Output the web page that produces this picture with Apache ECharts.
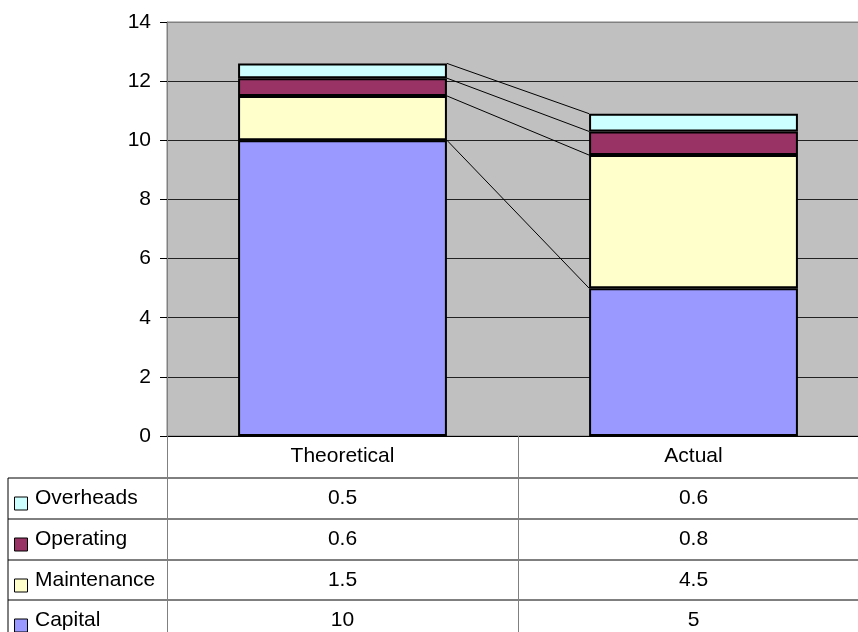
<!DOCTYPE html>
<html>
<head>
<meta charset="utf-8">
<script src="https://cdn.jsdelivr.net/npm/echarts@6/dist/echarts.min.js"></script>
<style>
    html, body { margin: 0; padding: 0; background: #fff; }
    #main { width: 858px; height: 632px; }
</style>
</head>
<body>
<div id="main"></div>
<script>
var categories = ['Theoretical', 'Actual'];
var capital = [10, 5];
var maintenance = [1.5, 4.5];
var operating = [0.6, 0.8];
var overheads = [0.5, 0.6];

var seriesNames = ['Capital', 'Maintenance', 'Operating', 'Overheads'];
var seriesData = [capital, maintenance, operating, overheads];
var seriesColors = ['#9999FF', '#FFFFCC', '#993366', '#CCFFFF'];

var FONT = "'Liberation Sans', Arial, sans-serif";
var BAR_RATIO = 0.595;

// running totals at the top of each stacked segment, used for the series lines
var levels = [];
var run = [0, 0];
for (var s = 0; s < seriesData.length; s++) {
    run = [run[0] + seriesData[s][0], run[1] + seriesData[s][1]];
    levels.push([0, run[0], run[1]]);
}

var series = [];
for (var i = 0; i < seriesNames.length; i++) {
    series.push({
        name: seriesNames[i],
        type: 'bar',
        stack: 'total',
        barWidth: (BAR_RATIO * 100) + '%',
        data: seriesData[i],
        itemStyle: { color: seriesColors[i], borderColor: '#000', borderWidth: 2 }
    });
}
series.push({
    type: 'custom',
    data: levels,
    encode: { x: 0, y: [1, 2] },
    z: 5,
    silent: true,
    clip: false,
    renderItem: function (params, api) {
        var a = api.coord([0, api.value(1)]);
        var b = api.coord([1, api.value(2)]);
        var hw = api.size([1, 0])[0] * BAR_RATIO / 2;
        return {
            type: 'line',
            shape: { x1: a[0] + hw, y1: a[1], x2: b[0] - hw, y2: b[1] },
            style: { stroke: '#000', lineWidth: 1 }
        };
    }
});

var myChart = echarts.init(document.getElementById('main'));
myChart.setOption({
    animation: false,
    textStyle: { fontFamily: FONT },
    grid: {
        left: 167,
        top: 22,
        right: -11,
        bottom: 196,
        containLabel: false,
        outerBoundsMode: 'none',
        show: true,
        backgroundColor: '#C0C0C0',
        borderColor: '#808080',
        borderWidth: 1
    },
    xAxis: {
        type: 'category',
        data: categories,
        axisLine: { lineStyle: { color: '#000', width: 1 } },
        axisTick: { show: true, length: 200, interval: 0, lineStyle: { color: '#808080' } },
        axisLabel: { color: '#000', fontSize: 21, fontFamily: FONT, margin: 10 }
    },
    yAxis: {
        type: 'value',
        min: 0,
        max: 14,
        interval: 2,
        axisLine: { show: true, lineStyle: { color: '#808080' } },
        axisTick: { show: true, length: 7, lineStyle: { color: '#000' } },
        axisLabel: { color: '#000', fontSize: 21, fontFamily: FONT, margin: 16 },
        splitLine: {
            show: true,
            lineStyle: { color: ['#222', '#222', '#222', '#222', '#222', '#222', '#222', '#808080'], width: 1 }
        }
    },
    series: series
});

// data table under the plot
var rowLines = [478, 519, 560, 600];
var rowHeight = 41;
var elements = [];
elements.push({ type: 'line', shape: { x1: 8, y1: 478, x2: 8, y2: 632 }, style: { stroke: '#000', lineWidth: 1 } });
for (var r = 0; r < rowLines.length; r++) {
    elements.push({ type: 'line', shape: { x1: 8, y1: rowLines[r], x2: 858, y2: rowLines[r] }, style: { stroke: '#000', lineWidth: 1 } });
}
for (var k = 0; k < seriesNames.length; k++) {
    var idx = seriesNames.length - 1 - k;
    var cy = rowLines[k] + rowHeight / 2;
    elements.push({
        type: 'rect',
        shape: { x: 14.5, y: cy - 1.5, width: 13, height: 13 },
        style: { fill: seriesColors[idx], stroke: '#000', lineWidth: 1 }
    });
    elements.push({
        type: 'text',
        x: 35, y: cy,
        style: { text: seriesNames[idx], fill: '#000', font: '21px ' + FONT, verticalAlign: 'middle', align: 'left' }
    });
    for (var c = 0; c < categories.length; c++) {
        var px = myChart.convertToPixel({ xAxisIndex: 0 }, categories[c]);
        elements.push({
            type: 'text',
            x: px, y: cy,
            style: { text: String(seriesData[idx][c]), fill: '#000', font: '21px ' + FONT, verticalAlign: 'middle', align: 'center' }
        });
    }
}
myChart.setOption({ graphic: { elements: elements } });
</script>
</body>
</html>
